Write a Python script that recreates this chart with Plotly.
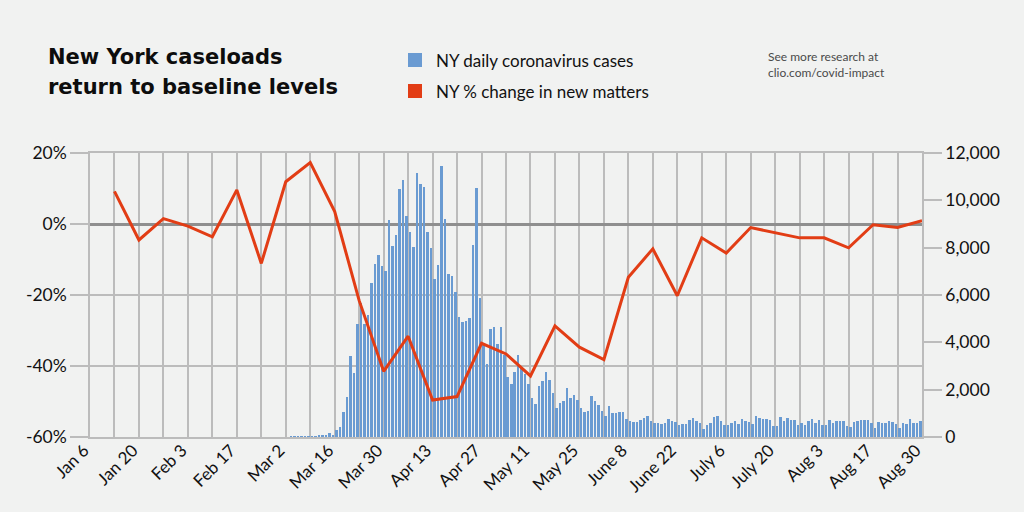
import pandas as pd
import plotly.graph_objects as go

# ---------------- data ----------------
case_start = "2020-03-01"
daily_cases = [
    # Mar 1-15
    0, 0, 5, 10, 15, 20, 30, 30, 10, 20, 45, 55, 70, 155, 55,
    # Mar 16-31
    295, 436, 1069, 1674, 3419, 2715, 4770, 5670, 4770, 5150, 6528, 7302, 7682, 7232, 7007, 9188,
    # Apr 1-30
    8090, 8541, 10468, 10848, 9329, 8653, 8048, 11172, 10707, 10567, 8667, 7992, 6697, 7260, 11439,
    9230, 6880, 6796, 6135, 5051, 4840, 4911, 5009, 8118, 10538, 5881, 3883, 3081, 4559, 4656,
    # May 1-31
    3926, 4656, 3461, 2533, 2237, 2756, 3461, 2968, 2659, 2237, 1646, 1405, 2165, 2364, 2731, 2393,
    1845, 1211, 1448, 1520, 2056, 1659, 1773, 1562, 1211, 1043, 1097, 1743, 1520, 1351, 1097,
    # Jun 1-30
    899, 1309, 1026, 1026, 1043, 1068, 747, 661, 647, 647, 718, 802, 900, 661, 605, 605, 563, 605,
    760, 689, 633, 520, 563, 549, 718, 788, 675, 577, 352, 492,
    # Jul 1-31
    605, 844, 886, 689, 507, 507, 577, 661, 563, 746, 689, 647, 535, 886, 802, 746, 746, 732, 478,
    478, 830, 675, 788, 718, 718, 507, 577, 507, 689, 746, 605,
    # Aug 1-30
    718, 507, 507, 718, 605, 661, 675, 675, 478, 436, 633, 661, 703, 703, 703, 577, 366, 633, 605,
    591, 675, 647, 535, 366, 591, 535, 760, 605, 605, 661,
]

matters_start = "2020-01-13"
pct_change_matters = [
    9.2, -4.5, 1.5, -0.6, -3.6, 9.6, -11.1, 11.9, 17.3, 3.5,
    -21.6, -41.5, -31.6, -49.6, -48.6, -33.6, -36.6, -42.8, -28.7, -34.7,
    -38.2, -15.0, -7.0, -20.2, -3.9, -8.2, -1.0, -2.4, -3.9, -3.9,
    -6.7, -0.2, -1.0, 0.9,
]

week_ticks = pd.date_range("2020-01-06", "2020-08-31", freq="7D")
tick_labels = ["Jan 6", "Jan 20", "Feb 3", "Feb 17", "Mar 2", "Mar 16", "Mar 30", "Apr 13",
               "Apr 27", "May 11", "May 25", "June 8", "June 22", "July 6", "July 20",
               "Aug 3", "Aug 17", "Aug 30"]
pct_ticks = [-60, -40, -20, 0, 20]
pct_labels = ["-60%", "-40%", "-20%", "0%", "20%"]
case_ticks = [0, 2000, 4000, 6000, 8000, 10000, 12000]

# ---------------- build ----------------
case_dates = pd.date_range(case_start, periods=len(daily_cases), freq="D") + pd.Timedelta(hours=12)
matter_dates = pd.date_range(matters_start, periods=len(pct_change_matters), freq="7D")
tick_text = []
li = 0
for i in range(len(week_ticks)):
    if i % 2 == 0:
        tick_text.append(tick_labels[li]); li += 1
    else:
        tick_text.append("")

BG = "#f1f2f1"
GRID = "#bcbcbc"
BLUE = "#6a9bd2"
RED = "#e23d15"
FONT = "Lato"

fig = go.Figure()
fig.add_trace(go.Bar(
    x=case_dates, y=daily_cases, yaxis="y", name="NY daily coronavirus cases",
    marker=dict(color=BLUE, line=dict(width=0)), width=0.72 * 86400000, showlegend=False,
))
fig.add_trace(go.Scatter(
    x=matter_dates, y=pct_change_matters, yaxis="y2", mode="lines",
    name="NY % change in new matters", line=dict(color=RED, width=3), showlegend=False,
))

L, R, T, B = 90, 922, 153, 437
W, H = 1024, 512
def X(px):
    return (px - L) / (R - L)
def Y(py):
    return (B - py) / (B - T)

fig.update_layout(
    width=W, height=H,
    margin=dict(l=L, r=W - R, t=T, b=H - B, pad=0),
    paper_bgcolor=BG, plot_bgcolor=BG,
    font=dict(family=FONT, color="#111111"),
    bargap=0,
    xaxis=dict(
        type="date", range=["2020-01-06", "2020-08-31"],
        tickmode="array", tickvals=week_ticks, ticktext=tick_text,
        tickangle=-45, tickfont=dict(size=17, color="#111111"),
        ticklabelshift=-6, ticklabelstandoff=-5,
        showgrid=True, gridcolor=GRID, gridwidth=1.5,
        ticks="", showline=True, mirror=True, linecolor=GRID, linewidth=1.5,
        zeroline=False,
    ),
    yaxis=dict(
        side="right", range=[0, 12000], tickmode="array", tickvals=case_ticks, tickformat=",",
        ticks="outside", ticklen=18, tickcolor=GRID, tickwidth=1.5,
        tickfont=dict(size=17.5, color="#111111"),
        showgrid=False, zeroline=False,
        showline=True, linecolor=GRID, linewidth=1.5,
    ),
    yaxis2=dict(
        side="left", overlaying="y", range=[-60, 20],
        tickmode="array", tickvals=pct_ticks, ticktext=pct_labels,
        ticks="outside", ticklen=18, tickcolor=GRID, tickwidth=1.5,
        tickfont=dict(size=17.5, color="#111111"),
        showgrid=True, gridcolor=GRID, gridwidth=1.5,
        zeroline=True, zerolinecolor="#8f8f8f", zerolinewidth=2.5,
        showline=True, linecolor=GRID, linewidth=1.5,
    ),
)

TITLE_FONT = dict(size=21, color="#0d0d0d", family="DejaVu Sans")
annotations = [
    dict(x=X(46), y=Y(57), xref="paper", yref="paper", xanchor="left", yanchor="middle",
         align="left", showarrow=False, text="<b>New York caseloads</b>", font=TITLE_FONT),
    dict(x=X(46), y=Y(87), xref="paper", yref="paper", xanchor="left", yanchor="middle",
         align="left", showarrow=False, text="<b>return to baseline levels</b>", font=TITLE_FONT),
    dict(x=X(434), y=Y(60), xref="paper", yref="paper", xanchor="left", yanchor="middle",
         showarrow=False, text="NY daily coronavirus cases",
         font=dict(size=17, color="#111111", family=FONT)),
    dict(x=X(434), y=Y(91), xref="paper", yref="paper", xanchor="left", yanchor="middle",
         showarrow=False, text="NY % change in new matters",
         font=dict(size=17, color="#111111", family=FONT)),
    dict(x=X(766), y=Y(65), xref="paper", yref="paper", xanchor="left", yanchor="middle",
         align="left", showarrow=False,
         text="See more research at<br>clio.com/covid-impact",
         font=dict(size=12, color="#4a4a4a", family=FONT)),
]
shapes = [
    dict(type="rect", xref="paper", yref="paper", x0=X(408), x1=X(422), y0=Y(67), y1=Y(53),
         fillcolor=BLUE, line=dict(width=0)),
    dict(type="rect", xref="paper", yref="paper", x0=X(408), x1=X(422), y0=Y(98), y1=Y(84),
         fillcolor=RED, line=dict(width=0)),
]
fig.update_layout(annotations=annotations, shapes=shapes)

fig.write_html("out.html")
